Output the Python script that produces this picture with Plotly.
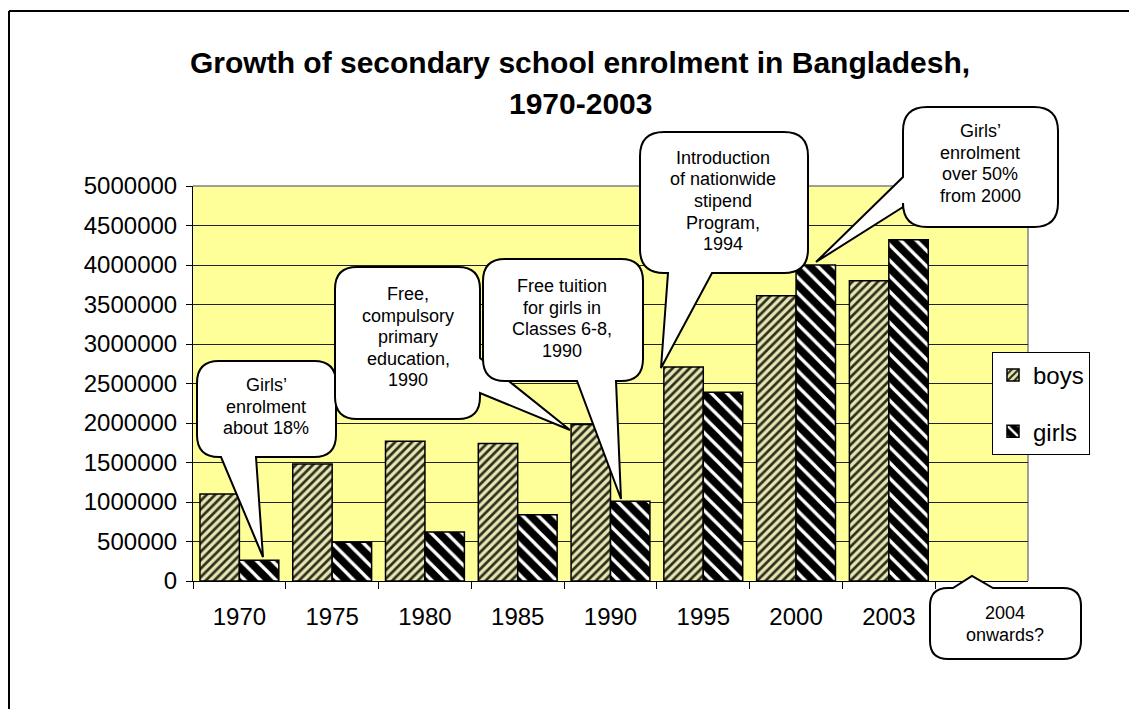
import plotly.graph_objects as go

# ---------------- data ----------------
years = ["1970", "1975", "1980", "1985", "1990", "1995", "2000", "2003"]
boys = [1100000, 1480000, 1770000, 1740000, 1980000, 2710000, 3610000, 3800000]
girls = [262000, 490000, 620000, 840000, 1010000, 2390000, 4000000, 4320000]
series_names = ["boys", "girls"]
title_lines = ["Growth of secondary school enrolment in Bangladesh,", "1970-2003"]

callout_texts = [
    ["Girls’", "enrolment", "about 18%"],
    ["Free,", "compulsory", "primary", "education,", "1990"],
    ["Free tuition", "for girls in", "Classes 6-8,", "1990"],
    ["Introduction", "of nationwide", "stipend", "Program,", "1994"],
    ["Girls’", "enrolment", "over 50%", "from 2000"],
    ["2004", "onwards?"],
]

# ---------------- layout geometry (pixels) ----------------
W, H = 1129, 709
ML, MR, MT, MB = 193, 101, 186, 128
PW = W - ML - MR
PH = H - MT - MB
BASE_Y = MT + PH
FONT = "Liberation Sans, Arial, sans-serif"


def P(X, Y):
    return (X - ML) / PW, (BASE_Y - Y) / PH


def fmt(X, Y):
    x, y = P(X, Y)
    return f"{x:.5f},{y:.5f}"


def callout_path(x0, y0, x1, y1, r, side, a, b, tip):
    tx, ty = tip
    s = [f"M{fmt(x0 + r, y0)}"]
    if side == "top":
        s += [f"L{fmt(a, y0)}", f"L{fmt(tx, ty)}", f"L{fmt(b, y0)}"]
    s += [f"L{fmt(x1 - r, y0)}", f"Q{fmt(x1, y0)} {fmt(x1, y0 + r)}"]
    if side == "right":
        s += [f"L{fmt(x1, a)}", f"L{fmt(tx, ty)}", f"L{fmt(x1, b)}"]
    s += [f"L{fmt(x1, y1 - r)}", f"Q{fmt(x1, y1)} {fmt(x1 - r, y1)}"]
    if side == "bottom":
        s += [f"L{fmt(b, y1)}", f"L{fmt(tx, ty)}", f"L{fmt(a, y1)}"]
    s += [f"L{fmt(x0 + r, y1)}", f"Q{fmt(x0, y1)} {fmt(x0, y1 - r)}"]
    if side == "left":
        s += [f"L{fmt(x0, b)}", f"L{fmt(tx, ty)}", f"L{fmt(x0, a)}"]
    s += [f"L{fmt(x0, y0 + r)}", f"Q{fmt(x0, y0)} {fmt(x0 + r, y0)}", "Z"]
    return " ".join(s)


# box (x0,y0,x1,y1), radius, tail side, tail base a,b, tip, text centre x, first line y
callout_geo = [
    ((197, 361, 336, 457), 22, "bottom", 221, 256, (263, 557), 266, 385),
    ((335, 267, 480, 419), 22, "right", 358, 393, (570, 430), 408, 294),
    ((483, 259, 643, 381), 22, "bottom", 577, 616, (621, 499), 562, 286),
    ((640, 132, 808, 273), 24, "bottom", 668, 712, (661, 368), 723, 158),
    ((903, 107, 1058, 227), 24, "left", 177, 207, (816, 262), 980, 131),
    ((930, 588, 1081, 659), 18, "top", 953, 993, (972, 576), 1005, 613),
]
LINE_SP = 21.5

fig = go.Figure()
fig.add_trace(go.Bar(
    x=years, y=boys, name=series_names[0], legendgroup="b",
    marker=dict(color="#e6e6b4", line=dict(color="black", width=1.5),
                pattern=dict(shape="/", fgcolor="#2e2e1c", bgcolor="#e6e6b4",
                             size=6, solidity=0.45, fillmode="replace")),
))
fig.add_trace(go.Bar(
    x=years, y=girls, name=series_names[1], legendgroup="g",
    marker=dict(color="black", line=dict(color="black", width=1.5),
                pattern=dict(shape="\\", fgcolor="white", bgcolor="black",
                             size=11, solidity=0.3, fillmode="replace")),
))

shapes = []
annotations = []

# outer frame (left and top)
shapes.append(dict(type="line", xref="paper", yref="paper",
                   x0=P(9, 11)[0], y0=P(9, 11)[1], x1=P(9, H + 5)[0], y1=P(9, H + 5)[1],
                   line=dict(color="black", width=2)))
shapes.append(dict(type="line", xref="paper", yref="paper",
                   x0=P(9, 11)[0], y0=P(9, 11)[1], x1=P(W + 5, 11)[0], y1=P(W + 5, 11)[1],
                   line=dict(color="black", width=2)))
# plot area grey border top/right
shapes.append(dict(type="line", xref="paper", yref="paper", x0=0, y0=1, x1=1, y1=1,
                   line=dict(color="#808080", width=1.5), layer="below"))
shapes.append(dict(type="line", xref="paper", yref="paper", x0=1, y0=0, x1=1, y1=1,
                   line=dict(color="#808080", width=1.5), layer="below"))

for (box, r, side, a, b, tip, cx, fy), lines in zip(callout_geo, callout_texts):
    x0, y0, x1, y1 = box
    shapes.append(dict(type="path", xref="paper", yref="paper",
                       path=callout_path(x0, y0, x1, y1, r, side, a, b, tip),
                       fillcolor="white", line=dict(color="black", width=2), layer="above"))
    for i, t in enumerate(lines):
        px, py = P(cx, fy + i * LINE_SP)
        annotations.append(dict(xref="paper", yref="paper", x=px, y=py, text=t,
                                showarrow=False, xanchor="center", yanchor="middle",
                                font=dict(family=FONT, size=18, color="black")))

# title
for i, t in enumerate(title_lines):
    px, py = P(580, 62 + i * 41)
    annotations.append(dict(xref="paper", yref="paper", x=px, y=py, text=f"<b>{t}</b>",
                            showarrow=False, xanchor="center", yanchor="middle",
                            font=dict(family=FONT, size=30, color="black")))

lx, ly = P(992, 352)
fig.update_layout(
    width=W, height=H,
    margin=dict(l=ML, r=MR, t=MT, b=MB, pad=0),
    paper_bgcolor="white", plot_bgcolor="#ffff99",
    barmode="group", bargap=0.15, bargroupgap=0,
    font=dict(family=FONT, size=24, color="black"),
    shapes=shapes, annotations=annotations,
    showlegend=True,
    legend=dict(x=lx, y=ly, xanchor="left", yanchor="top",
                bgcolor="white", bordercolor="black", borderwidth=1,
                font=dict(family=FONT, size=24, color="black"),
                tracegroupgap=22, itemwidth=30,
                entrywidth=70),
    xaxis=dict(type="category", categoryorder="array", categoryarray=years,
               range=[-0.5, 8.5], tickson="boundaries", ticks="outside", ticklen=7,
               tickcolor="black", showline=True, linecolor="black", linewidth=1,
               showgrid=False, tickfont=dict(size=24), ticklabelstandoff=14,
               fixedrange=True),
    yaxis=dict(range=[0, 5000000], dtick=500000, tickformat="d", ticks="outside",
               ticklen=6, tickcolor="black", showline=True, linecolor="black",
               linewidth=1, showgrid=True, gridcolor="#222222", gridwidth=1,
               zeroline=False, tickfont=dict(size=24), ticklabelstandoff=4,
               fixedrange=True),
)

fig.write_html("out.html", config={"displayModeBar": False})
